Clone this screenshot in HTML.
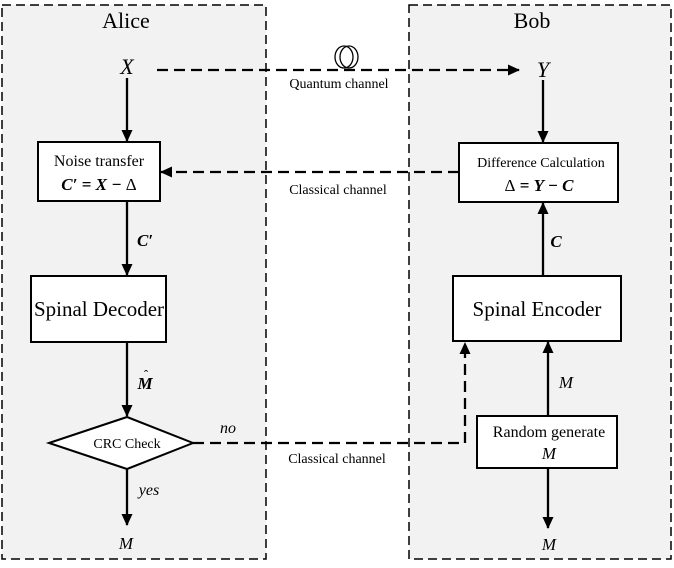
<!DOCTYPE html>
<html><head><style>body{margin:0;background:#fff}</style></head><body>
<svg width="674" height="563" viewBox="0 0 674 563" xmlns="http://www.w3.org/2000/svg" font-family="Liberation Serif, serif">
<defs><marker id="a" markerWidth="12" markerHeight="12" refX="11" refY="6" orient="auto" markerUnits="userSpaceOnUse"><path d="M0,0.5 L12,6 L0,11.5 z" fill="#000"/></marker></defs>
<rect x="2" y="5" width="264" height="554" fill="#f2f2f2" stroke="#000" stroke-width="1.5" stroke-dasharray="9,5"/>
<rect x="409" y="5" width="262" height="554" fill="#f2f2f2" stroke="#000" stroke-width="1.5" stroke-dasharray="9,5"/>
<text x="126" y="28" font-size="22" text-anchor="middle">Alice</text>
<text x="532" y="28" font-size="22" text-anchor="middle">Bob</text>
<text x="127" y="74" font-size="22" font-style="italic" text-anchor="middle">X</text>
<text x="543" y="77" font-size="22" font-style="italic" text-anchor="middle">Y</text>
<g stroke="#000" stroke-width="2.3" fill="none">
<line x1="157" y1="70" x2="519" y2="70" stroke-dasharray="11,6" marker-end="url(#a)"/>
<line x1="459" y1="172" x2="161" y2="172" stroke-dasharray="11,6" marker-end="url(#a)"/>
<polyline points="193,443 465,443 465,343" stroke-dasharray="11,6" marker-end="url(#a)"/>
<line x1="127" y1="78" x2="127" y2="141" marker-end="url(#a)"/>
<line x1="543" y1="80" x2="543" y2="142" marker-end="url(#a)"/>
<line x1="127" y1="201" x2="127" y2="275" marker-end="url(#a)"/>
<line x1="543" y1="276" x2="543" y2="203" marker-end="url(#a)"/>
<line x1="127" y1="342" x2="127" y2="416" marker-end="url(#a)"/>
<line x1="127" y1="469" x2="127" y2="525" marker-end="url(#a)"/>
<line x1="548" y1="416" x2="548" y2="342" marker-end="url(#a)"/>
<line x1="548" y1="468" x2="548" y2="528" marker-end="url(#a)"/>
<ellipse cx="344" cy="57" rx="9" ry="11" stroke-width="1.3"/>
<ellipse cx="349" cy="57" rx="9" ry="11" stroke-width="1.3"/>
</g>
<g fill="#fff" stroke="#000" stroke-width="2">
<rect x="38" y="142" width="122" height="59"/>
<rect x="459" y="143" width="159" height="59"/>
<rect x="31" y="276" width="135" height="66"/>
<rect x="453" y="276" width="168" height="65"/>
<rect x="477" y="416" width="140" height="52"/>
<polygon points="49,443 127,417 193,443 127,469"/>
</g>
<text x="339" y="88" font-size="14" text-anchor="middle">Quantum channel</text>
<text x="338" y="194" font-size="14" text-anchor="middle">Classical channel</text>
<text x="337" y="463" font-size="14" text-anchor="middle">Classical channel</text>
<text x="99" y="166" font-size="16" text-anchor="middle">Noise transfer</text>
<text x="99" y="190" font-size="17" font-weight="bold" font-style="italic" text-anchor="middle">C′ = X − <tspan font-weight="normal" font-style="normal">Δ</tspan></text>
<text x="541" y="167" font-size="14" text-anchor="middle">Difference Calculation</text>
<text x="539" y="191" font-size="17" font-weight="bold" font-style="italic" text-anchor="middle"><tspan font-weight="normal" font-style="normal">Δ</tspan> = Y − C</text>
<text x="99" y="316" font-size="21" text-anchor="middle">Spinal Decoder</text>
<text x="537" y="316" font-size="21" text-anchor="middle">Spinal Encoder</text>
<text x="549" y="437" font-size="16" text-anchor="middle">Random generate</text>
<text x="549" y="459" font-size="17" font-style="italic" text-anchor="middle">M</text>
<text x="127" y="448" font-size="14" text-anchor="middle">CRC Check</text>
<text x="145" y="246" font-size="17" font-weight="bold" font-style="italic" text-anchor="middle">C′</text>
<text x="556" y="247" font-size="17" font-weight="bold" font-style="italic" text-anchor="middle">C</text>
<text x="145" y="389" font-size="17" font-weight="bold" font-style="italic" text-anchor="middle">M</text>
<text x="146" y="379" font-size="13" text-anchor="middle">ˆ</text>
<text x="566" y="388" font-size="17" font-style="italic" text-anchor="middle">M</text>
<text x="228" y="433" font-size="16" font-style="italic" text-anchor="middle">no</text>
<text x="149" y="495" font-size="16" font-style="italic" text-anchor="middle">yes</text>
<text x="126" y="549" font-size="17" font-style="italic" text-anchor="middle">M</text>
<text x="549" y="550" font-size="17" font-style="italic" text-anchor="middle">M</text>
</svg>
</body></html>
